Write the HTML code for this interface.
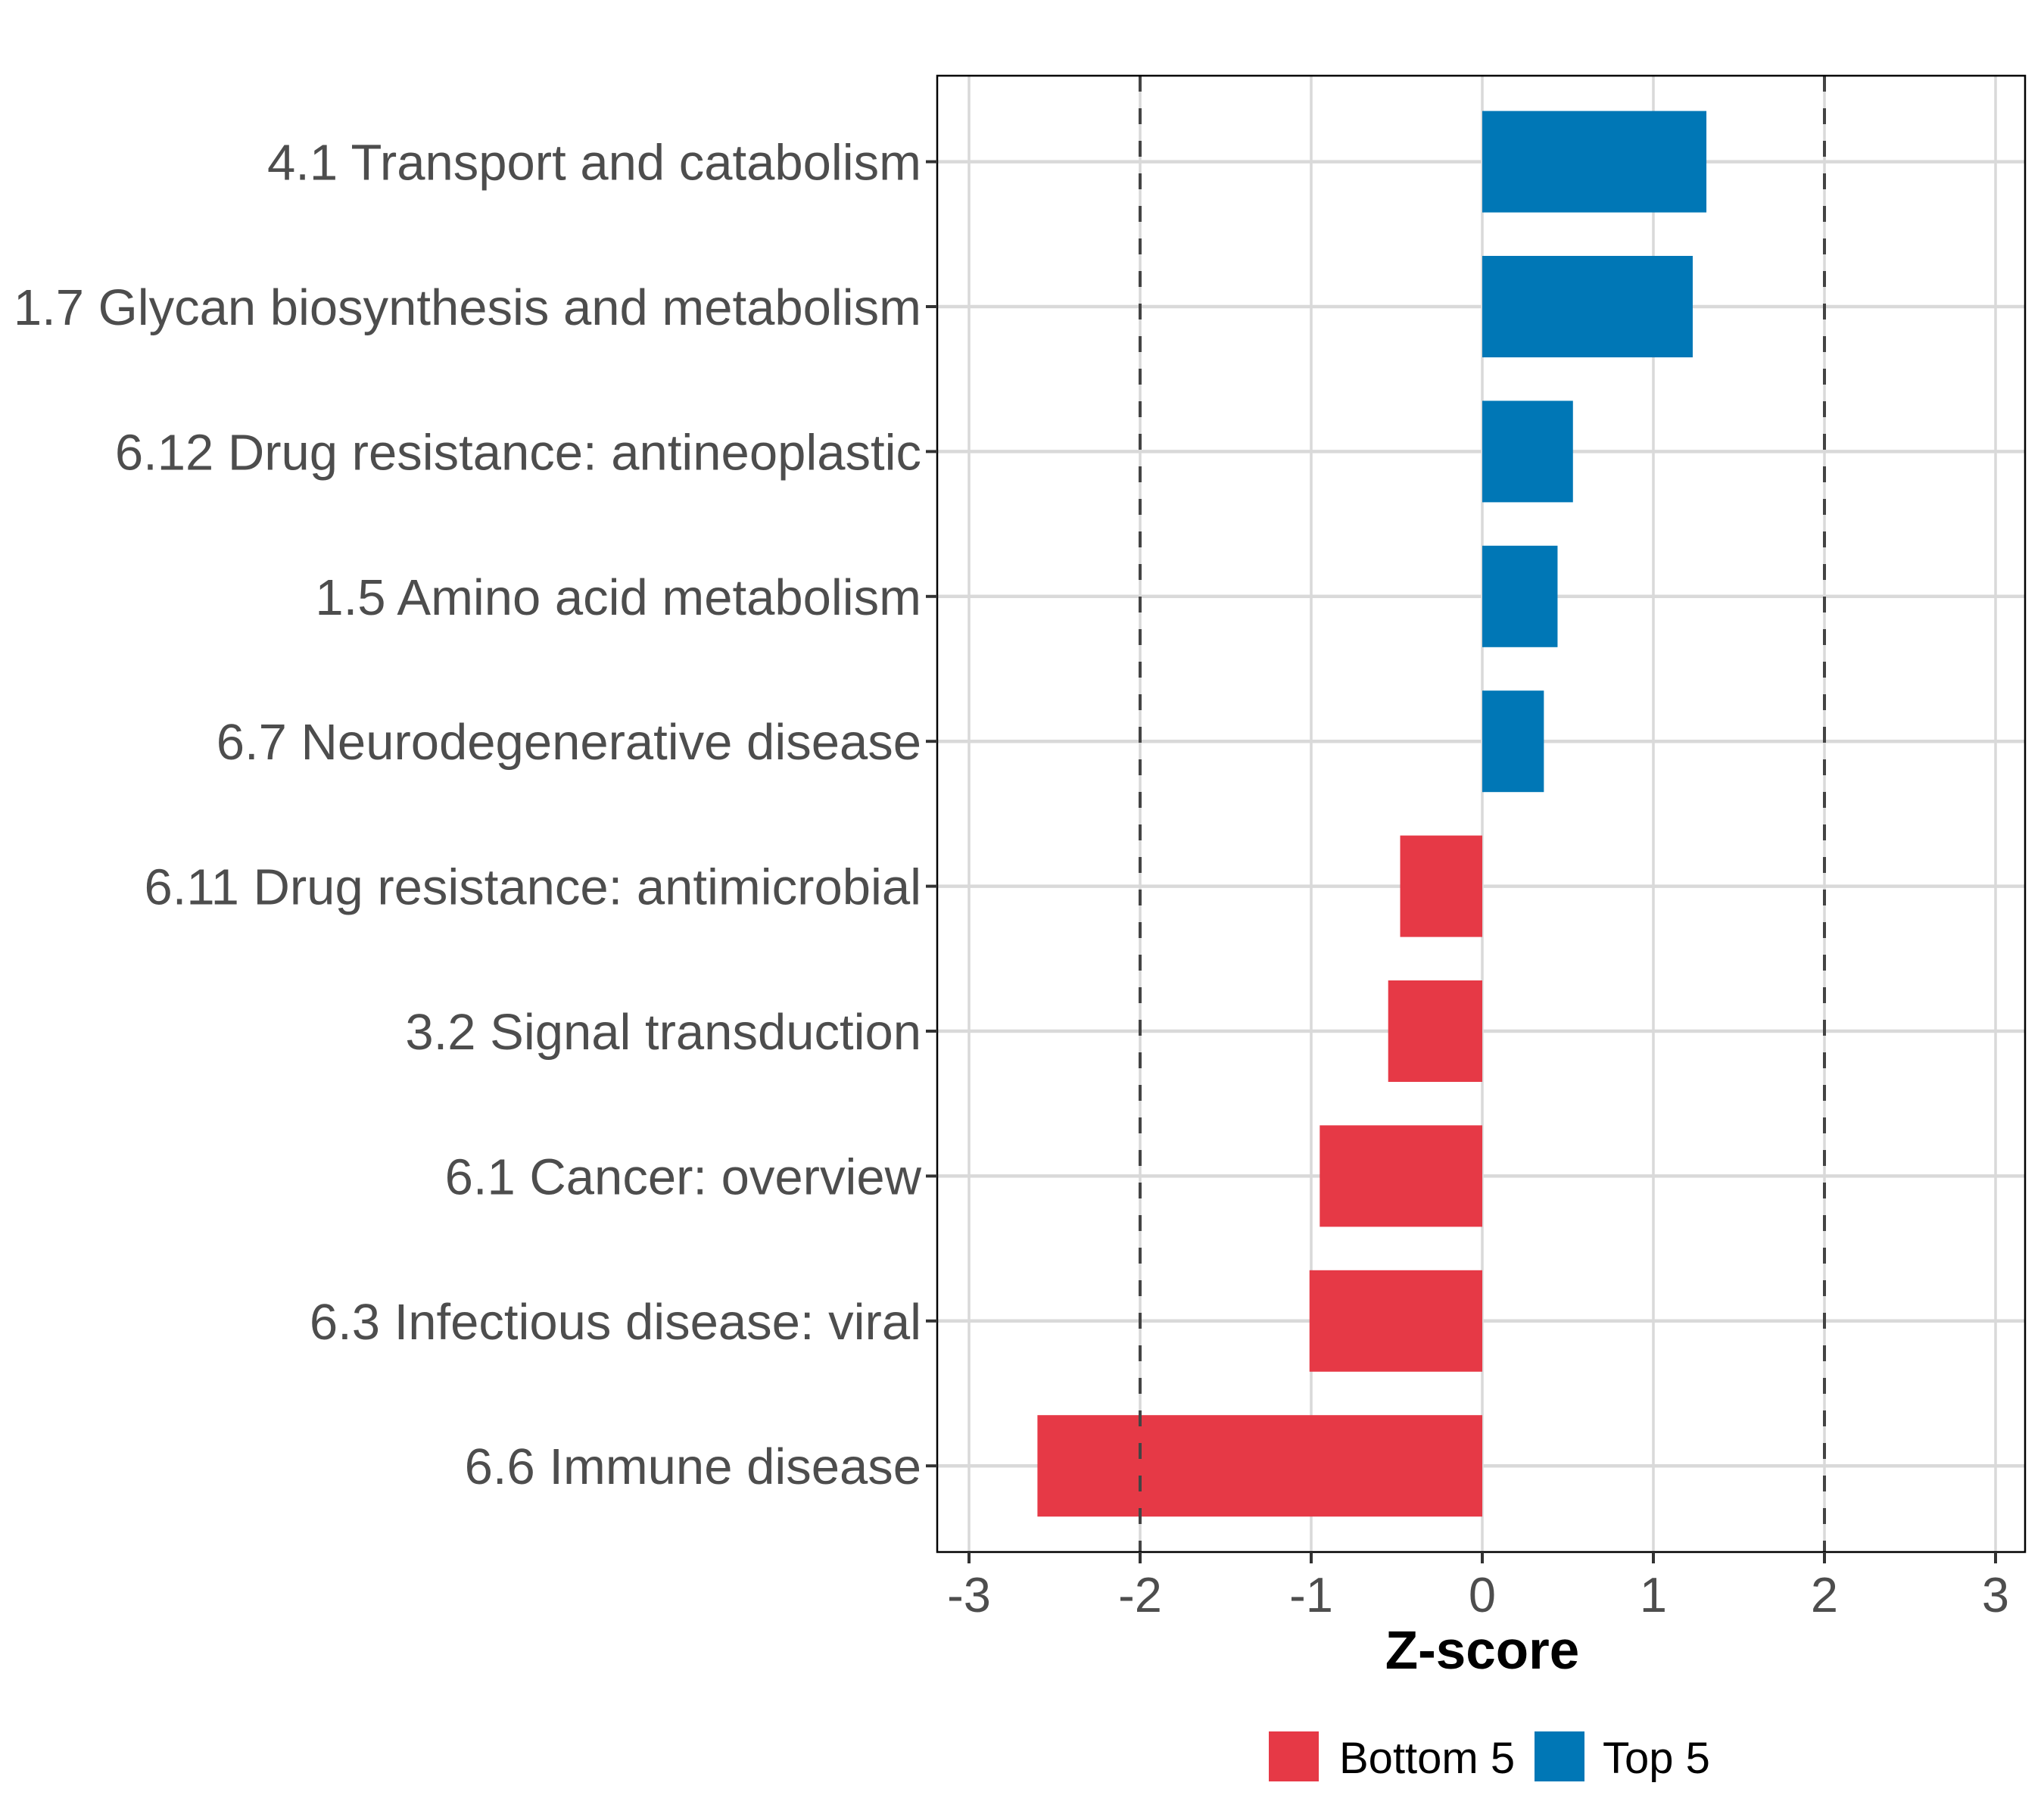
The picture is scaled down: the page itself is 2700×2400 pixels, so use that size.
<!DOCTYPE html>
<html><head><meta charset="utf-8"><style>
html,body{margin:0;padding:0;background:#fff}
svg{display:block}
text{font-family:"Liberation Sans",Arial,sans-serif}
</style></head><body>
<svg id="chart" width="2700" height="2400" viewBox="0 0 2700 2400" xmlns="http://www.w3.org/2000/svg">
<rect width="2700" height="2400" fill="#fff"/>
<g id="grid"></g>
<g id="bars"></g>
<g id="refs"></g>
<rect x="1238" y="100" width="1437" height="1950" fill="none" stroke="#000" stroke-width="2.5"/>
<g id="yaxis"></g>
<g id="xaxis"></g>
<text x="1958" y="2204" text-anchor="middle" font-size="71" font-weight="bold" fill="#000">Z-score</text>
<g>
  <g>
    <rect x="1676" y="2287" width="66" height="66" fill="#E63946"/>
    <text x="1769" y="2342" font-size="58" fill="#000">Bottom 5</text>
  </g>
  <g>
    <rect x="2027" y="2287" width="66" height="66" fill="#0077B6"/>
    <text x="2117" y="2342" font-size="58" fill="#000">Top 5</text>
  </g>
</g>
</svg>
<script>
const categories = ["4.1 Transport and catabolism","1.7 Glycan biosynthesis and metabolism","6.12 Drug resistance: antineoplastic","1.5 Amino acid metabolism","6.7 Neurodegenerative disease","6.11 Drug resistance: antimicrobial","3.2 Signal transduction","6.1 Cancer: overview","6.3 Infectious disease: viral","6.6 Immune disease"];
const zscores = [1.31, 1.23, 0.53, 0.44, 0.36, -0.48, -0.55, -0.95, -1.01, -2.60];
const groups = ["Top 5","Top 5","Top 5","Top 5","Top 5","Bottom 5","Bottom 5","Bottom 5","Bottom 5","Bottom 5"];
const xTicks = [-3,-2,-1,0,1,2,3];
const xTickLabels = ["-3","-2","-1","0","1","2","3"];
const refLines = [-2, 2];

const NS = "http://www.w3.org/2000/svg";
const X0 = 1958, UNIT = 226;
const xScale = v => X0 + v * UNIT;
const ROW0 = 213.6, STEP = 191.4;
const yScale = i => ROW0 + i * STEP;
const BAR_H = 134;
const PL = 1238, PR = 2675, PT = 100, PB = 2050;
const colorFor = g => g === "Top 5" ? "#0077B6" : "#E63946";
function mk(tag, attrs, parent){const e=document.createElementNS(NS,tag);for(const k in attrs)e.setAttribute(k,attrs[k]);parent.appendChild(e);return e;}
const grid=document.getElementById('grid'), bars=document.getElementById('bars'), refs=document.getElementById('refs'), yaxis=document.getElementById('yaxis'), xaxis=document.getElementById('xaxis');

xTicks.forEach((t,i)=>{
  const x=xScale(t);
  const l=mk('line',{x1:x,x2:x,y1:PT,y2:PB,stroke:'#d9d9d9','stroke-width':3.5},grid);
  
  
  const tk=mk('line',{x1:x,x2:x,y1:PB,y2:PB+15,stroke:'#333','stroke-width':4},xaxis);
  
  
  const tx=mk('text',{x:x,y:2129,'text-anchor':'middle','font-size':65,fill:'#4d4d4d'},xaxis);
  tx.textContent=xTickLabels[i];
  
  
});
categories.forEach((c,i)=>{
  const y=yScale(i);
  const l=mk('line',{x1:PL,x2:PR,y1:y,y2:y,stroke:'#d9d9d9','stroke-width':4.5},grid);
  
  
  const v=zscores[i];
  const r=mk('rect',{x:Math.min(xScale(0),xScale(v)),y:y-BAR_H/2,width:Math.abs(xScale(v)-xScale(0)),height:BAR_H,fill:colorFor(groups[i])},bars);
  
  
  const tk=mk('line',{x1:PL-15,x2:PL,y1:y,y2:y,stroke:'#333','stroke-width':4},yaxis);
  
  
  const tx=mk('text',{x:PL-21,y:y+24,'text-anchor':'end','font-size':67,fill:'#4d4d4d'},yaxis);
  tx.textContent=c;
  
  
});
refLines.forEach(v=>{
  const x=xScale(v);
  const l=mk('line',{x1:x,x2:x,y1:PT,y2:PB,stroke:'#444','stroke-width':4,'stroke-dasharray':'21 22'},refs);
  
  
});
</script>
</body></html>
